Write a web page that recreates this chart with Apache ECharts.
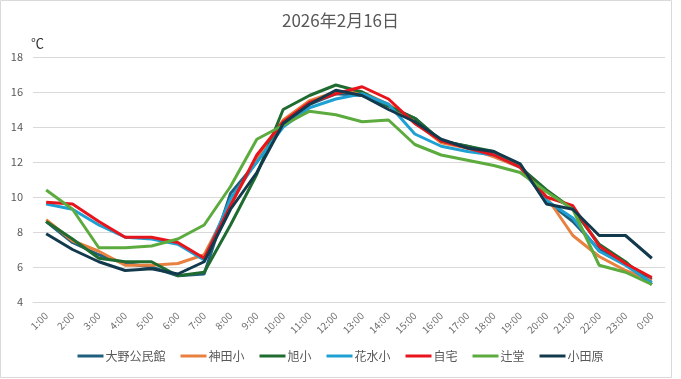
<!DOCTYPE html>
<html><head><meta charset="utf-8">
<script src="https://cdn.jsdelivr.net/npm/echarts@6/dist/echarts.min.js"></script>
<style>html,body{margin:0;padding:0;background:#fff}#c{width:681px;height:379px}</style>
</head><body><div id="c"></div>
<script>
const hours = ['1:00','2:00','3:00','4:00','5:00','6:00','7:00','8:00','9:00','10:00','11:00','12:00','13:00','14:00','15:00','16:00','17:00','18:00','19:00','20:00','21:00','22:00','23:00','0:00'];
const oono   = [8.6,7.4,6.7,6.2,6.0,5.5,5.6,10.2,12.0,14.2,15.3,15.9,15.8,15.2,14.5,13.2,12.9,12.5,11.8,9.8,8.6,7.0,6.2,5.3];
const kanda  = [8.7,7.5,6.9,6.1,6.1,6.2,6.7,9.6,12.2,14.4,15.5,16.0,16.0,15.3,14.3,13.1,12.8,12.3,11.7,10.0,7.8,6.6,5.8,5.2];
const asahi  = [8.6,7.6,6.5,6.3,6.3,5.5,5.7,8.4,11.3,15.0,15.8,16.4,16.0,15.2,14.5,13.2,12.9,12.6,11.7,10.4,9.3,7.3,6.3,5.0];
const hanami = [9.6,9.3,8.4,7.7,7.6,7.3,6.4,9.9,12.0,14.0,15.1,15.6,15.9,15.3,13.6,12.9,12.6,12.4,11.7,9.8,8.8,6.9,6.1,5.1];
const jitaku = [9.7,9.6,8.6,7.7,7.7,7.4,6.5,9.5,12.4,14.3,15.4,15.9,16.3,15.6,14.2,13.2,12.8,12.4,11.7,10.0,9.5,7.2,6.2,5.4];
const tsuji  = [10.4,9.3,7.1,7.1,7.2,7.6,8.4,10.6,13.3,14.1,14.9,14.7,14.3,14.4,13.0,12.4,12.1,11.8,11.4,10.3,9.3,6.1,5.7,5.0];
const odawara= [7.9,7.0,6.3,5.8,5.9,5.6,6.3,9.3,11.4,14.2,15.3,16.1,15.8,15.0,14.3,13.3,12.8,12.6,11.9,9.6,9.3,7.8,7.8,6.5];
const seriesDefs = [
  ['大野公民館', oono, '#1F5E7E'],
  ['神田小', kanda, '#E8803F'],
  ['旭小', asahi, '#1F6B30'],
  ['花水小', hanami, '#1FA0D2'],
  ['自宅', jitaku, '#E8141C'],
  ['辻堂', tsuji, '#5CAB3E'],
  ['小田原', odawara, '#123A4C']
];
const F = '"Noto Sans CJK JP","Noto Sans",sans-serif';
const chart = echarts.init(document.getElementById('c'), null, {renderer:'canvas'});
chart.setOption({
  animation:false,
  textStyle:{fontFamily:F},
  graphic:[{type:'rect',shape:{x:0.5,y:0.5,width:671,height:377},style:{fill:'none',stroke:'#d9d9d9',lineWidth:1},silent:true},
           {type:'text',left:31,top:37,style:{text:'℃',fontSize:13,fill:'#333',fontFamily:F}}],
  title:{text:'2026年2月16日',left:'center',top:7,textStyle:{fontSize:17,fontWeight:'normal',color:'#595959',fontFamily:F}},
  legend:{bottom:12,left:'center',itemWidth:26,itemHeight:3,itemGap:15,icon:'rect',
    textStyle:{fontSize:12,color:'#595959',padding:[0,0,0,-3]},
    data:seriesDefs.map(d=>d[0])},
  grid:{left:33,right:16,top:57,bottom:77,containLabel:false},
  xAxis:{type:'category',data:hours,boundaryGap:true,
    axisLine:{show:true,lineStyle:{color:'#d9d9d9'}},axisTick:{show:false},
    axisLabel:{rotate:45,fontSize:10,color:'#707070',interval:0,margin:12}},
  yAxis:{type:'value',min:4,max:18,interval:2,
    axisLine:{show:false},axisTick:{show:false},
    splitLine:{lineStyle:{color:'#d9d9d9'}},
    axisLabel:{fontSize:11,color:'#595959',margin:10}},
  series:seriesDefs.map(d=>({name:d[0],type:'line',data:d[1],showSymbol:false,symbol:'none',
    lineStyle:{width:3,color:d[2]},itemStyle:{color:d[2]}}))
});
</script></body></html>
